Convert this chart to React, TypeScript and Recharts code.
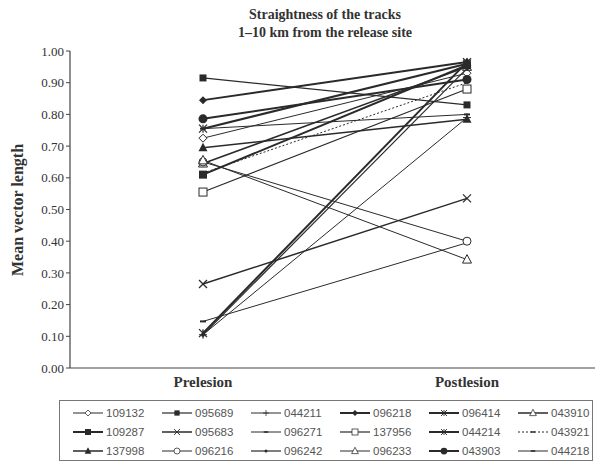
import React from 'react';
import { LineChart, Line, XAxis, YAxis } from 'recharts';

const phases = ['Prelesion', 'Postlesion'];

const birds = [
  '109132', '095689', '044211', '096218', '096414', '043910',
  '109287', '095683', '096271', '137956', '044214', '043921',
  '137998', '096216', '096242', '096233', '043903', '044218',
];

const preValues = [
  0.725, 0.915, 0.105, 0.845, 0.755, 0.645,
  0.61, 0.265, 0.147, 0.555, 0.11, 0.615,
  0.695, 0.65, 0.105, 0.655, 0.786, 0.755,
];

const postValues = [
  0.93, 0.83, 0.79, 0.965, 0.96, 0.95,
  0.955, 0.535, 0.395, 0.88, 0.965, 0.9,
  0.785, 0.4, 0.945, 0.342, 0.91, 0.8,
];

const yTicks = [0, 0.1, 0.2, 0.3, 0.4, 0.5, 0.6, 0.7, 0.8, 0.9, 1.0];

// marker shape + line weight for each bird
const markers = [
  'diamondOpen', 'squareSmall', 'plus', 'diamond', 'star', 'triangleOpen',
  'square', 'x', 'dash', 'squareOpen', 'star', 'none',
  'triangle', 'circleOpen', 'dot', 'triangleOpen', 'circle', 'dash',
];
const widths = [
  1, 1.2, 1, 2, 2, 1.5,
  2, 1.5, 1, 1.2, 2, 1,
  1.5, 1, 1.2, 1, 2, 1,
];

const INK = '#2a2a2a';

const data = phases.map((p, i) => {
  const row: any = { phase: p };
  birds.forEach((b, j) => {
    row['b' + b] = i === 0 ? preValues[j] : postValues[j];
  });
  return row;
});

function marker(shape: string, cx: number, cy: number, key?: any) {
  const s = 4;
  switch (shape) {
    case 'diamondOpen':
      return <polygon key={key} points={`${cx},${cy - s} ${cx + s},${cy} ${cx},${cy + s} ${cx - s},${cy}`} fill="#fff" stroke={INK} strokeWidth={1} />;
    case 'diamond':
      return <polygon key={key} points={`${cx},${cy - s} ${cx + s},${cy} ${cx},${cy + s} ${cx - s},${cy}`} fill={INK} />;
    case 'square':
      return <rect key={key} x={cx - 4} y={cy - 4} width={8} height={8} fill={INK} />;
    case 'squareSmall':
      return <rect key={key} x={cx - 3.5} y={cy - 3.5} width={7} height={7} fill={INK} />;
    case 'squareOpen':
      return <rect key={key} x={cx - 4} y={cy - 4} width={8} height={8} fill="#fff" stroke={INK} strokeWidth={1} />;
    case 'triangle':
      return <polygon key={key} points={`${cx},${cy - 5} ${cx + 4.5},${cy + 3.5} ${cx - 4.5},${cy + 3.5}`} fill={INK} />;
    case 'triangleOpen':
      return <polygon key={key} points={`${cx},${cy - 5} ${cx + 4.5},${cy + 3.5} ${cx - 4.5},${cy + 3.5}`} fill="#fff" stroke={INK} strokeWidth={1} />;
    case 'circle':
      return <circle key={key} cx={cx} cy={cy} r={4.5} fill={INK} />;
    case 'circleOpen':
      return <circle key={key} cx={cx} cy={cy} r={4} fill="#fff" stroke={INK} strokeWidth={1} />;
    case 'dot':
      return <circle key={key} cx={cx} cy={cy} r={2} fill={INK} />;
    case 'plus':
      return (
        <g key={key} stroke={INK} strokeWidth={1}>
          <line x1={cx - 4} y1={cy} x2={cx + 4} y2={cy} />
          <line x1={cx} y1={cy - 4} x2={cx} y2={cy + 4} />
        </g>
      );
    case 'x':
      return (
        <g key={key} stroke={INK} strokeWidth={1.2}>
          <line x1={cx - 4} y1={cy - 4} x2={cx + 4} y2={cy + 4} />
          <line x1={cx - 4} y1={cy + 4} x2={cx + 4} y2={cy - 4} />
        </g>
      );
    case 'star':
      return (
        <g key={key} stroke={INK} strokeWidth={1.2}>
          <line x1={cx - 4} y1={cy - 4} x2={cx + 4} y2={cy + 4} />
          <line x1={cx - 4} y1={cy + 4} x2={cx + 4} y2={cy - 4} />
          <line x1={cx} y1={cy - 4} x2={cx} y2={cy + 4} />
        </g>
      );
    case 'dash':
      return <line key={key} x1={cx - 3} y1={cy} x2={cx + 3} y2={cy} stroke={INK} strokeWidth={2} />;
    default:
      return <g key={key} />;
  }
}

function LegendBox() {
  return (
    <div
      style={{
        position: 'absolute', left: 59, top: 400, width: 532, height: 59,
        border: '1px solid #777', fontFamily: '"Liberation Sans", Arial, sans-serif',
        fontSize: 11.5, color: '#555',
      }}
    >
      {birds.map((b, i) => {
        const col = i % 6;
        const row = Math.floor(i / 6);
        return (
          <div key={b} style={{ position: 'absolute', left: 12 + col * 89, top: 4 + row * 19, display: 'flex', alignItems: 'center', height: 16 }}>
            <svg width={32} height={14}>
              <line x1={1} y1={7} x2={31} y2={7} stroke={INK} strokeWidth={widths[i]} strokeDasharray={b === '043921' ? '2 2' : undefined} />
              <g transform="translate(16 7) scale(0.75) translate(-16 -7)">
                {marker(markers[i] === 'none' ? 'dash' : markers[i], 16, 7)}
              </g>
            </svg>
            <span style={{ marginLeft: 2 }}>{b}</span>
          </div>
        );
      })}
    </div>
  );
}

export default function App() {
  return (
    <div style={{ position: 'absolute', left: 0, top: 0, width: 595, height: 463, background: '#fff' }}>
      <div
        style={{
          position: 'absolute', left: 70, width: 510, top: 6, textAlign: 'center',
          fontFamily: '"Liberation Serif", "Times New Roman", serif', fontWeight: 'bold',
          fontSize: 14, lineHeight: '18px', color: '#333',
        }}
      >
        Straightness of the tracks
        <br />
        1–10 km from the release site
      </div>
      <div
        style={{
          position: 'absolute', left: 18, top: 210, transform: 'translate(-50%, -50%) rotate(-90deg)',
          whiteSpace: 'nowrap', fontFamily: '"Liberation Serif", "Times New Roman", serif',
          fontWeight: 'bold', fontSize: 16, color: '#333',
        }}
      >
        Mean vector length
      </div>
      <LineChart width={595} height={463} data={data} margin={{ top: 51, right: 0, bottom: 65, left: 0 }}>
        <XAxis
          dataKey="phase"
          scale="point"
          padding={{ left: 133, right: 128 }}
          tickLine={false}
          axisLine={{ stroke: '#444', strokeWidth: 1.2 }}
          height={30}
          tick={{ fill: '#333', fontSize: 15, fontWeight: 'bold', fontFamily: '"Liberation Serif", serif' }}
        />
        <YAxis
          width={70}
          domain={[0, 1]}
          ticks={yTicks}
          tickFormatter={(v: number) => v.toFixed(2)}
          tickSize={4}
          tickLine={{ stroke: '#444' }}
          axisLine={{ stroke: '#444', strokeWidth: 1.2 }}
          tick={{ fill: '#333', fontSize: 13, fontFamily: '"Liberation Serif", serif' }}
        />
        {birds.map((b, i) => (
          <Line
            key={b}
            dataKey={'b' + b}
            stroke={INK}
            strokeWidth={widths[i]}
            strokeDasharray={b === '043921' ? '2 2' : undefined}
            isAnimationActive={false}
            dot={(p: any) => marker(markers[i], p.cx, p.cy, p.key)}
            activeDot={false}
          />
        ))}
      </LineChart>
      <LegendBox />
    </div>
  );
}
